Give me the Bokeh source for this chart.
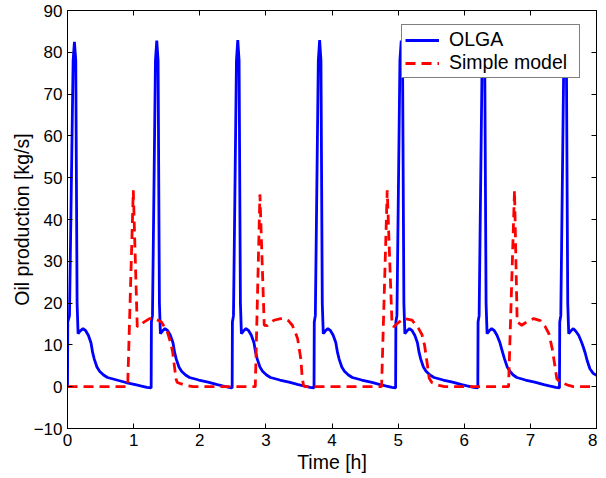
from bokeh.plotting import figure
from bokeh.models import LinearAxis, Range1d, FixedTicker, Legend, LegendItem
from bokeh.embed import file_html
from bokeh.resources import INLINE

# ---- data ----
olga_t = [0.000, 0.004, 0.030, 0.085, 0.105, 0.125, 0.145, 0.160, 0.190, 0.235, 0.275, 0.315, 0.355, 0.380, 0.405, 0.445, 0.485, 0.545, 0.605, 0.745, 0.885, 1.025, 1.105, 1.200,
          1.265, 1.269, 1.285, 1.330, 1.350, 1.370, 1.390, 1.405, 1.435, 1.475, 1.515, 1.555, 1.595, 1.620, 1.645, 1.685, 1.725, 1.785, 1.845, 1.985, 2.125, 2.265, 2.345, 2.445,
          2.490, 2.494, 2.510, 2.555, 2.575, 2.595, 2.615, 2.630, 2.660, 2.700, 2.740, 2.780, 2.820, 2.845, 2.870, 2.910, 2.950, 3.010, 3.070, 3.210, 3.350, 3.490, 3.570, 3.670,
          3.728, 3.732, 3.748, 3.793, 3.813, 3.833, 3.853, 3.868, 3.898, 3.938, 3.978, 4.018, 4.058, 4.083, 4.108, 4.148, 4.188, 4.248, 4.308, 4.448, 4.588, 4.728, 4.808, 4.908,
          4.962, 4.966, 4.982, 5.027, 5.047, 5.067, 5.087, 5.102, 5.132, 5.172, 5.212, 5.252, 5.292, 5.317, 5.342, 5.382, 5.422, 5.482, 5.542, 5.682, 5.822, 5.962, 6.042, 6.142,
          6.205, 6.209, 6.225, 6.270, 6.290, 6.310, 6.330, 6.345, 6.375, 6.415, 6.455, 6.495, 6.540, 6.580, 6.610, 6.650, 6.690, 6.740, 6.795, 6.925, 7.065, 7.205, 7.285, 7.385,
          7.440, 7.444, 7.460, 7.505, 7.525, 7.545, 7.565, 7.580, 7.610, 7.650, 7.690, 7.730, 7.770, 7.800, 7.830, 7.860, 7.900, 7.950, 8.000]
olga_y = [0.0, 15.5, 17.0, 78.0, 82.5, 78.0, 20.0, 12.7, 13.3, 13.9, 13.4, 12.3, 10.5, 8.2, 6.6, 4.7, 3.7, 2.8, 2.2, 1.6, 1.0, 0.5, 0.2, -0.15,
          -0.3, 15.5, 17.0, 78.0, 82.8, 78.0, 20.0, 12.7, 13.3, 13.9, 13.4, 12.3, 10.5, 8.2, 6.6, 4.7, 3.7, 2.8, 2.2, 1.6, 1.1, 0.5, 0.2, -0.15,
          -0.3, 15.5, 17.0, 78.0, 82.9, 78.0, 20.0, 12.7, 13.3, 13.9, 13.4, 12.3, 10.5, 8.2, 6.6, 4.7, 3.7, 2.8, 2.2, 1.6, 1.1, 0.5, 0.2, -0.15,
          -0.3, 15.5, 17.0, 78.0, 82.9, 78.0, 20.0, 12.7, 13.3, 13.9, 13.4, 12.3, 10.5, 8.2, 6.6, 4.7, 3.7, 2.8, 2.2, 1.6, 1.1, 0.5, 0.2, -0.15,
          -0.3, 15.5, 17.0, 78.0, 82.8, 78.0, 20.0, 12.7, 13.3, 13.9, 13.4, 12.3, 10.5, 8.2, 6.6, 4.7, 3.7, 2.8, 2.2, 1.6, 1.1, 0.5, 0.2, -0.15,
          -0.3, 15.5, 17.0, 78.0, 82.8, 78.0, 20.0, 12.7, 13.3, 13.9, 13.4, 12.3, 10.5, 8.2, 6.6, 4.7, 3.7, 2.8, 2.2, 1.6, 1.1, 0.5, 0.2, -0.15,
          -0.3, 15.5, 17.0, 78.0, 82.8, 78.0, 20.0, 12.7, 13.3, 13.9, 13.2, 12.3, 10.8, 9.5, 8.0, 6.2, 4.3, 3.2, 2.7]

simple_t = [0.000, 0.910, 0.995, 1.055, 1.150, 1.240, 1.330, 1.420, 1.510, 1.560, 1.590, 1.620, 1.640, 1.660, 1.790, 1.900,
            2.840, 2.910, 2.975, 3.020, 3.120, 3.250, 3.340, 3.400, 3.450, 3.480, 3.510, 3.530, 3.550, 3.570, 3.600,
            4.750, 4.835, 4.905, 4.930, 5.000, 5.090, 5.210, 5.310, 5.360, 5.400, 5.440, 5.470, 5.510, 5.620, 5.700,
            6.670, 6.760, 6.800, 6.870, 6.950, 7.050, 7.150, 7.220, 7.280, 7.330, 7.370, 7.400, 7.450, 7.580, 7.650, 8.000]
simple_y = [0.0, 0.0, 47.0, 14.3, 15.4, 16.3, 16.2, 15.5, 13.1, 10.5, 8.3, 4.5, 1.9, 1.0, 0.3, 0.0,
            0.0, 46.0, 14.7, 14.6, 15.9, 16.4, 15.8, 14.7, 12.8, 11.5, 8.5, 6.5, 2.0, 0.3, 0.0,
            0.0, 47.0, 16.0, 14.3, 15.3, 16.3, 15.9, 13.9, 12.5, 9.9, 5.5, 2.0, 1.0, 0.3, 0.0,
            0.0, 47.0, 15.5, 14.7, 15.6, 16.3, 15.8, 14.5, 12.7, 9.1, 5.1, 1.9, 1.1, 0.3, 0.0, 0.0]

x_ticks = [0, 1, 2, 3, 4, 5, 6, 7, 8]
y_ticks = [-10, 0, 10, 20, 30, 40, 50, 60, 70, 80, 90]
y_tick_labels = {-10: "\u221210"}
series_names = ["OLGA", "Simple model"]

FONT = "Liberation Sans"
TICK_FS = "17px"
LABEL_FS = "19.5px"

p = figure(frame_width=529, frame_height=418, x_range=Range1d(0, 8), y_range=Range1d(-10, 90),
           output_backend="svg", toolbar_location=None,
           min_border_left=67, min_border_right=1, min_border_top=10, min_border_bottom=48)
p.xgrid.visible = False
p.ygrid.visible = False
p.outline_line_color = "black"
p.background_fill_color = "white"
p.border_fill_color = "white"

def style_axis(ax, ticks, show_labels=True):
    ax.ticker = FixedTicker(ticks=ticks)
    ax.major_tick_in = 5
    ax.major_tick_out = 0
    ax.minor_tick_line_color = None
    ax.axis_line_color = "black"
    ax.major_tick_line_color = "black"
    ax.major_label_text_font = FONT
    if show_labels:
        ax.major_label_text_font_size = TICK_FS
        ax.major_label_text_color = "black"
        ax.major_label_standoff = 5
    else:
        ax.major_label_text_font_size = "1px"
        ax.major_label_text_color = None
        ax.major_label_standoff = 0

style_axis(p.xaxis[0], x_ticks)
style_axis(p.yaxis[0], y_ticks)
p.yaxis[0].major_label_overrides = y_tick_labels
p.xaxis[0].axis_label = "Time [h]"
p.yaxis[0].axis_label = "Oil production [kg/s]"
for ax in (p.xaxis[0], p.yaxis[0]):
    ax.axis_label_text_font = FONT
    ax.axis_label_text_font_size = LABEL_FS
    ax.axis_label_text_font_style = "normal"
    ax.axis_label_text_color = "black"
p.xaxis[0].axis_label_standoff = 2
p.yaxis[0].axis_label_standoff = -2

top_ax = LinearAxis()
right_ax = LinearAxis()
style_axis(top_ax, x_ticks, show_labels=False)
style_axis(right_ax, y_ticks, show_labels=False)
p.add_layout(top_ax, "above")
p.add_layout(right_ax, "right")

r_olga = p.line(olga_t, olga_y, line_color="#0000ff", line_width=2.8)
r_simple = p.line(simple_t, simple_y, line_color="#ff0000", line_width=2.8, line_dash="10 6")

legend = Legend(items=[LegendItem(label=series_names[0], renderers=[r_olga]),
                       LegendItem(label=series_names[1], renderers=[r_simple])],
                location=(334, 350), padding=3, spacing=0,
                glyph_width=34, glyph_height=18, label_height=18, label_width=127,
                label_standoff=10,
                label_text_font=FONT, label_text_font_size=LABEL_FS, label_text_color="black",
                border_line_color="black", border_line_width=1,
                background_fill_color="white", background_fill_alpha=1.0)
p.add_layout(legend)

open("out.html", "w").write(file_html(p, INLINE))
